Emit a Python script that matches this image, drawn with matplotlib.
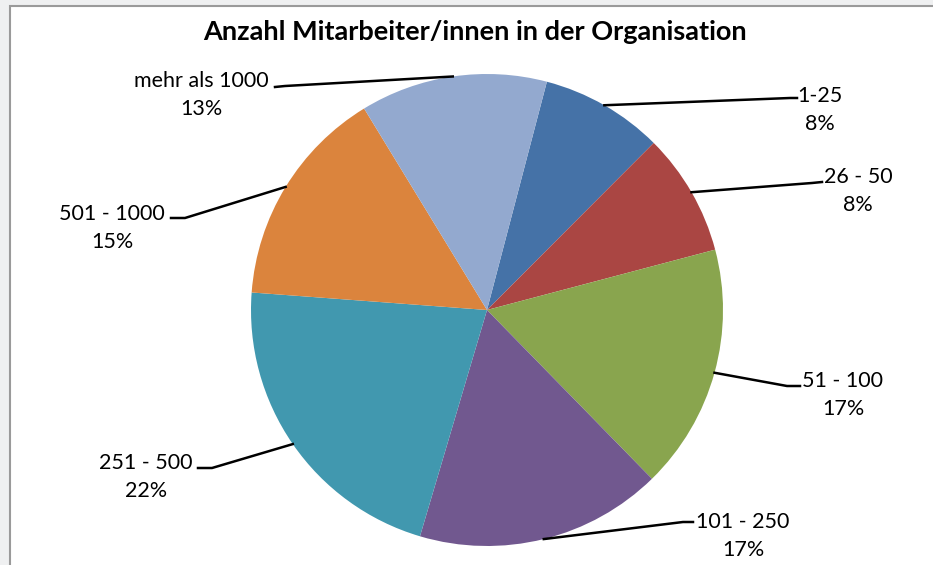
import numpy as np
import matplotlib.pyplot as plt
from matplotlib.patches import Rectangle

plt.rcParams['font.family'] = ['Lato', 'DejaVu Sans']

# data
categories = ["1-25", "26 - 50", "51 - 100", "101 - 250", "251 - 500", "501 - 1000", "mehr als 1000"]
values = [8.4, 8.4, 16.8, 16.9, 21.6, 15.1, 12.8]
colors = ["#4572a7", "#aa4643", "#89a54e", "#71588f", "#4198af", "#db843d", "#93a9cf"]

# label layout in image pixels: elbow, line end, text centre
elbows = [(790, 98), (812, 183), (787, 386), (683, 522), (212, 468), (185, 218), (285, 86)]
ends = [(797, 98), (822, 182), (800, 386), (693, 522), (198, 468), (171, 218), (275, 87)]
text_pos = [(820, 96), (858, 177), (843, 381), (743, 522), (146, 463), (112, 214), (201, 81)]

W, H = 933, 565
fig = plt.figure(figsize=(9.33, 5.65), dpi=100, facecolor="#eff0f1")
ax = fig.add_axes([0, 0, 1, 1])
ax.set_facecolor("none")

# white chart area with grey border
ax.add_patch(Rectangle((10, -5), W, H - 6 + 5, facecolor="white", edgecolor="#9a9a9a", lw=1.5, zorder=0))

cx, cy, r = 487, H - 310, 236
wedges, _ = ax.pie(values, colors=colors, startangle=75.3, counterclock=False,
                   center=(cx, cy), radius=r, wedgeprops=dict(linewidth=0))

total = sum(values)
for i, w in enumerate(wedges):
    mid = np.deg2rad((w.theta1 + w.theta2) / 2)
    px, py = cx + r * np.cos(mid), cy + r * np.sin(mid)
    ex, ey = elbows[i]
    fx, fy = ends[i]
    ax.plot([px, ex, fx], [py, H - ey, H - fy], color="black", lw=1.8, zorder=3)
    tx, ty = text_pos[i]
    ax.text(tx, H - ty, categories[i], ha="center", va="center", fontsize=15.5)
    ax.text(tx, H - ty - 28, "%.0f%%" % (values[i] / total * 100), ha="center", va="center", fontsize=15.5)

ax.text(475, H - 32, "Anzahl Mitarbeiter/innen in der Organisation", ha="center", va="center",
        fontsize=19.5, fontweight="bold")

ax.set_xlim(0, W)
ax.set_ylim(0, H)
ax.axis("off")

fig.savefig("out.png", dpi=100, facecolor=fig.get_facecolor())
